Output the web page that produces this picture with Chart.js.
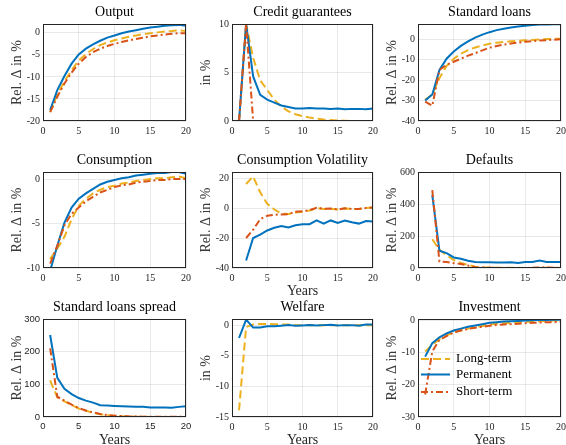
<!DOCTYPE html>
<html>
<head>
<meta charset="utf-8">
<script src="https://cdn.jsdelivr.net/npm/chart.js@4/dist/chart.umd.min.js"></script>
<style>
  body { margin: 0; background: #fff; width: 566px; height: 445px; position: relative; overflow: hidden; }
  canvas { position: absolute; }
</style>
</head>
<body>
<script>
// x values (years) and tick labels
const years = [1, 2, 3, 4, 5, 6, 7, 8, 9, 10, 11, 12, 13, 14, 15, 16, 17, 18, 19, 20];
const xTicks = [0, 5, 10, 15, 20];
const seriesNames = ["Long-term", "Permanent", "Short-term"];

// Output
const outputLong  = [-18, -14, -11, -8.5, -6.3, -4.8, -3.7, -2.8, -2.2, -1.7, -1.3, -0.9, -0.6, -0.3, -0.1, 0.1, 0.3, 0.4, 0.6, 0.4];
const outputPerm  = [-17.5, -13, -9.8, -7, -4.9, -3.6, -2.6, -1.8, -1.1, -0.6, -0.1, 0.3, 0.6, 0.9, 1.2, 1.4, 1.6, 1.7, 1.8, 1.6];
const outputShort = [-18, -14.5, -11.5, -9, -7, -5.5, -4.4, -3.6, -3, -2.5, -2.1, -1.7, -1.4, -1.1, -0.8, -0.6, -0.4, -0.2, -0.1, -0.1];
const outputTicks = [-20, -15, -10, -5, 0];

// Credit guarantees
const cgLong  = [0, 10, 6.5, 4.2, 3.2, 2.2, 1.5, 1.0, 0.7, 0.5, 0.35, 0.25, 0.15, 0.1, 0.05, 0.03, 0, 0, 0, 0];
const cgPerm  = [0, 10, 4.6, 2.7, 2.2, 1.9, 1.6, 1.45, 1.3, 1.3, 1.35, 1.3, 1.3, 1.25, 1.3, 1.2, 1.25, 1.25, 1.2, 1.3];
const cgShort = [0, 10, 0, 0, 0, 0, 0, 0, 0, 0, 0, 0, 0, 0, 0, 0, 0, 0, 0, 0];
const cgTicks = [0, 5, 10];

// Standard loans
const slLong  = [-29.6, -27, -19, -13, -9.5, -7, -5.3, -4, -3, -2.2, -1.7, -1.3, -1, -0.7, -0.5, -0.3, -0.1, 0.1, 0.2, 0.3];
const slPerm  = [-30, -27, -15, -9.5, -6, -3.2, -1, 0.8, 2.3, 3.5, 4.5, 5.2, 5.8, 6.3, 6.7, 7, 7.2, 7.3, 7.4, 7.4];
const slShort = [-30.5, -32.5, -15, -12.5, -11, -9.5, -8, -6.8, -5.4, -4.1, -3.3, -2.6, -2.1, -1.6, -1.2, -0.9, -0.6, -0.4, -0.2, 0];
const slTicks = [-40, -30, -20, -10, 0];

// Consumption
const consLong  = [-9, -7.8, -6.5, -4.5, -3, -2.2, -1.6, -1.2, -0.9, -0.75, -0.5, -0.4, -0.2, -0.1, 0, 0.1, 0.1, 0.2, 0.3, 0.1];
const consPerm  = [-10.3, -7.5, -4.9, -3.2, -2.2, -1.6, -1.1, -0.6, -0.3, -0.1, 0.1, 0.2, 0.4, 0.5, 0.6, 0.7, 0.7, 0.8, 0.8, 0.6];
const consShort = [-9.5, -7.5, -5.2, -3.9, -3.2, -2.5, -2, -1.5, -1.2, -0.9, -0.7, -0.6, -0.4, -0.3, -0.2, -0.1, -0.1, 0, 0, 0];
const consTicks = [-10, -5, 0];

// Consumption Volatility
const volLong  = [null, 16, 21, 10.4, 2.8, -1, -3.7, -4, -3, -2.5, -1.7, 0, -0.7, -0.5, -1, -0.3, -0.6, -0.6, 0, 0.4];
const volPerm  = [null, -35, -20, -17.8, -15, -13.2, -12, -13, -11.5, -10.9, -10.8, -8.3, -10.5, -8.3, -10, -8.3, -9.5, -10.4, -8.7, -9];
const volShort = [null, -20, -14.5, -7.4, -5.2, -4.5, -4.3, -4.1, -2.5, -2.2, -1.5, 0.2, -0.6, -0.4, -1, -0.2, -0.6, -0.6, 0, 0.4];
const volTicks = [-40, -20, 0, 20];

// Defaults
const defLong  = [null, 180, 114, 80, 50, 31, 20, 8, 5, 3, 2, 2, 1, 1, 0, 0, 1, 2, 1, 0];
const defPerm  = [null, 455, 108, 93, 66, 58, 45, 37, 36, 36, 35, 34, 36, 31, 38, 38, 46, 37, 38, 38];
const defShort = [null, 487, 41, 37, 30, 25, 15, 5, 3, 2, 1, 0, 0, 0, 0, 2, 4, 3, 2, 0];
const defTicks = [0, 200, 400, 600];

// Standard loans spread
const sprLong  = [112, 60, 48, 37, 26, 19, 13, 8.5, 5.5, 3.5, 2.5, 1.5, 1, 0.5, 0.3, 0.2, 0.2, 0.2, 0.2, 0.2];
const sprPerm  = [251, 120, 86, 70, 58, 50, 44, 36, 35, 34, 33, 32, 31, 31, 29, 29, 29, 28, 31, 33];
const sprShort = [210, 62, 50, 38, 27, 20, 14, 9, 6, 4, 3, 2, 1.5, 1, 0.5, 0.5, 0.5, 0.5, 0.5, 0.5];
const sprTicks = [0, 100, 200, 300];

// Welfare
const welLong = [-13.9, -0.3, 0.1, 0.2, 0.2, 0.15, 0.1, 0.1, 0, 0, 0, 0, 0, 0, 0, 0, 0, 0, 0, 0];
const welPerm = [-2.1, 0.9, -0.4, -0.4, -0.2, -0.2, -0.1, 0, -0.1, -0.05, 0, -0.05, 0, 0.05, -0.05, 0, 0, -0.1, 0.1, 0.1];
const welTicks = [-15, -10, -5, 0];

// Investment
const invLong  = [-9.6, -7.5, -5.8, -4.6, -3.7, -3, -2.5, -2.1, -1.7, -1.2, -1, -0.8, -0.7, -0.5, -0.4, -0.3, -0.2, -0.1, 0, 0];
const invPerm  = [-11.2, -7, -5.2, -4, -3.1, -2.5, -1.9, -1.5, -1.1, -0.7, -0.5, -0.3, -0.2, -0.1, 0, 0.1, 0.2, 0.2, 0.3, 0.3];
const invShort = [-23, -9.6, -6, -4.8, -3.7, -3.1, -2.6, -2.2, -1.9, -1.6, -1.4, -1.2, -1.1, -1, -0.8, -0.7, -0.6, -0.5, -0.5, -0.4];
const invTicks = [-30, -20, -10, 0];

// line styles per series (long, permanent, short)
const styles = [
  { color: "#EDB120", dash: [8, 4], order: 3 },
  { color: "#0072BD", dash: [], order: 2 },
  { color: "#D95319", dash: [7, 3, 2, 3], order: 1 }
];

const SERIF = "'Liberation Serif', 'Times New Roman', serif";
const TXT = "#262626";
const GRID = "rgba(0,0,0,0.085)";

// box around the plot area
const boxPlugin = {
  id: "box",
  afterDatasetsDraw(chart) {
    const { ctx, chartArea: a } = chart;
    ctx.save();
    ctx.strokeStyle = TXT;
    ctx.lineWidth = 1;
    ctx.setLineDash([]);
    ctx.strokeRect(Math.round(a.left) + 0.5, Math.round(a.top) + 0.5,
      Math.round(a.right - a.left) - 1, Math.round(a.bottom - a.top) - 1);
    ctx.restore();
  }
};

// legend drawn inside the plot area (Investment panel)
const innerLegend = {
  id: "innerLegend",
  afterDraw(chart) {
    const { ctx, chartArea: a } = chart;
    const rowsY = [40, 55.5, 73];
    ctx.save();
    chart.data.datasets.forEach((ds, i) => {
      const y = a.top + rowsY[i];
      ctx.strokeStyle = ds.borderColor;
      ctx.lineWidth = 2;
      ctx.setLineDash(ds.borderDash);
      ctx.beginPath();
      ctx.moveTo(a.left + 3, y);
      ctx.lineTo(a.left + 32, y);
      ctx.stroke();
      ctx.setLineDash([]);
      ctx.fillStyle = "#000";
      ctx.font = "13px " + SERIF;
      ctx.textBaseline = "middle";
      ctx.fillText(ds.label, a.left + 38, y);
    });
    ctx.restore();
  }
};

const panels = [
  { title: "Output", yLabel: "Rel. \u0394 in %", min: -20, max: 2, ticks: outputTicks,
    left: 43, right: 186, top: 24, bottom: 121, series: [outputLong, outputPerm, outputShort] },
  { title: "Credit guarantees", yLabel: "in %", min: 0, max: 10, ticks: cgTicks,
    left: 232, right: 373, top: 24, bottom: 121, series: [cgLong, cgPerm, cgShort] },
  { title: "Standard loans", yLabel: "Rel. \u0394 in %", min: -40, max: 7.5, ticks: slTicks,
    left: 418, right: 561, top: 24, bottom: 121, series: [slLong, slPerm, slShort] },
  { title: "Consumption", yLabel: "Rel. \u0394 in %", min: -10, max: 0.8, ticks: consTicks,
    left: 43, right: 186, top: 172, bottom: 268, series: [consLong, consPerm, consShort] },
  { title: "Consumption Volatility", yLabel: "Rel. \u0394 in %", min: -40, max: 24, ticks: volTicks,
    left: 232, right: 373, top: 172, bottom: 268, years: true, series: [volLong, volPerm, volShort] },
  { title: "Defaults", yLabel: "Rel. \u0394 in %", min: 0, max: 600, ticks: defTicks,
    left: 418, right: 561, top: 172, bottom: 268, series: [defLong, defPerm, defShort] },
  { title: "Standard loans spread", yLabel: "Rel. \u0394 in %", min: 0, max: 300, ticks: sprTicks,
    left: 43, right: 186, top: 319, bottom: 417, years: true, sans: true, series: [sprLong, sprPerm, sprShort] },
  { title: "Welfare", yLabel: "in %", min: -15, max: 1, ticks: welTicks,
    left: 232, right: 373, top: 319, bottom: 417, years: true, series: [welLong, welPerm] },
  { title: "Investment", yLabel: "Rel. \u0394 in %", min: -30, max: 0.5, ticks: invTicks,
    left: 418, right: 561, top: 319, bottom: 417, years: true, legend: true, series: [invLong, invPerm, invShort] }
];

function makePanel(p) {
  const xh = p.years ? 32 : 16;
  const w = p.right - p.left + 43 + 12;
  const h = p.bottom - p.top + 24 + xh;
  const cv = document.createElement("canvas");
  cv.width = w; cv.height = h;
  cv.style.left = (p.left - 43) + "px";
  cv.style.top = (p.top - 24) + "px";
  cv.style.width = w + "px";
  cv.style.height = h + "px";
  document.body.appendChild(cv);

  const tickFont = p.sans
    ? { family: "'Liberation Sans', Arial, sans-serif", size: 9.5 }
    : { family: SERIF, size: 10 };

  const datasets = p.series.map((data, i) => ({
    label: seriesNames[i],
    data: years.map((x, j) => ({ x: x, y: data[j] })),
    borderColor: styles[i].color,
    borderDash: styles[i].dash,
    borderWidth: 2,
    pointRadius: 0,
    fill: false,
    tension: 0,
    order: styles[i].order
  }));

  new Chart(cv, {
    type: "line",
    data: { datasets },
    options: {
      responsive: false,
      animation: false,
      events: [],
      layout: { padding: { left: 0, right: 12, top: 0, bottom: 0 } },
      plugins: {
        legend: { display: false },
        tooltip: { enabled: false },
        title: {
          display: true, text: p.title, fullSize: false, color: "#000",
          font: { family: SERIF, size: 14, weight: "normal" },
          padding: { top: 4, bottom: 3.2 }
        }
      },
      scales: {
        x: {
          type: "linear", min: 0, max: 20,
          afterBuildTicks: s => { s.ticks = xTicks.map(v => ({ value: v })); },
          afterFit: s => { s.height = xh; },
          grid: { color: GRID, drawTicks: false },
          border: { display: false },
          ticks: { font: tickFont, color: TXT, padding: 4, maxRotation: 0, autoSkip: false },
          title: {
            display: !!p.years, text: "Years", color: TXT,
            font: { family: SERIF, size: 14 }, padding: { top: 0, bottom: 0 }
          }
        },
        y: {
          min: p.min, max: p.max,
          afterBuildTicks: s => { s.ticks = p.ticks.map(v => ({ value: v })); },
          afterFit: s => { s.width = 43; },
          grid: { color: GRID, drawTicks: false },
          border: { display: false },
          ticks: { font: tickFont, color: TXT, padding: 3 },
          title: {
            display: true, text: p.yLabel, color: "#3a3a3a",
            font: { family: SERIF, size: 14 }, padding: { top: 9, bottom: 0 }
          }
        }
      }
    },
    plugins: p.legend ? [boxPlugin, innerLegend] : [boxPlugin]
  });
}

panels.forEach(makePanel);
</script>
</body>
</html>
